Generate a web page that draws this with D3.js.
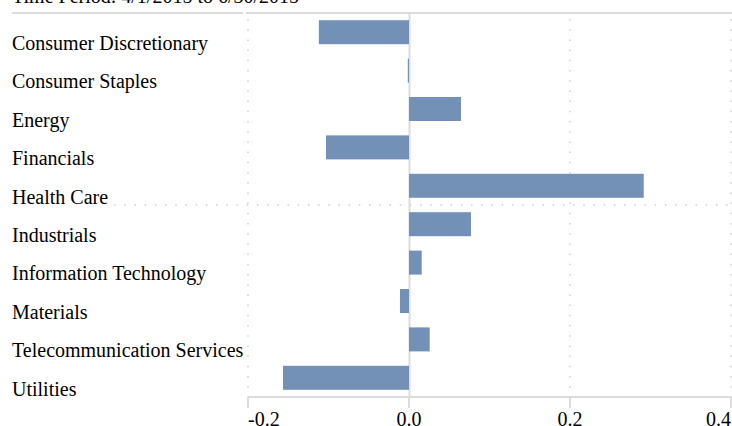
<!DOCTYPE html>
<html>
<head>
<meta charset="utf-8">
<script src="https://cdn.jsdelivr.net/npm/d3@7"></script>
<style>
  html, body { margin: 0; padding: 0; background: #fff; }
  svg { display: block; }
  text { font-family: "Liberation Serif", "Times New Roman", serif; fill: #000; }
</style>
</head>
<body>
<svg id="chart" width="732" height="426"></svg>
<script>
const title = "Time Period: 4/1/2015 to 6/30/2015";
const categories = [
  "Consumer Discretionary",
  "Consumer Staples",
  "Energy",
  "Financials",
  "Health Care",
  "Industrials",
  "Information Technology",
  "Materials",
  "Telecommunication Services",
  "Utilities"
];
const values = [-0.112, -0.0015, 0.0646, -0.1031, 0.2916, 0.077, 0.0158, -0.0112, 0.0257, -0.1565];
const xTicks = [-0.2, 0.0, 0.2, 0.4];
const xTickLabels = ["-0.2", "0.0", "0.2", "0.4"];

const svg = d3.select("#chart");
const W = 732, H = 426;
const plotLeft = 248, plotRight = 731, plotTop = 13, plotBottom = 397;
const labelX = 12;
const fontSize = 20;
const gridColor = "#dcdcdc";
const barColor = "#7390b7";

const x = d3.scaleLinear().domain([-0.2, 0.4]).range([plotLeft, plotRight]);
const y = d3.scaleBand().domain(categories).range([plotTop, plotBottom])
  .paddingInner(0.375).paddingOuter(0.1875);

// title (mostly clipped at top, as in the reference)
svg.append("text").attr("x", labelX).attr("y", 3)
  .attr("font-size", fontSize).text(title);

// top rule lines
svg.append("line").attr("x1", labelX).attr("x2", 243).attr("y1", plotTop).attr("y2", plotTop)
  .attr("stroke", gridColor).attr("stroke-width", 2);
svg.append("line").attr("x1", 246).attr("x2", W).attr("y1", plotTop).attr("y2", plotTop)
  .attr("stroke", gridColor).attr("stroke-width", 2);

// vertical dotted gridlines
svg.append("g").selectAll("line").data(xTicks.filter(d => d !== 0)).join("line")
  .attr("x1", d => Math.min(x(d), W - 1)).attr("x2", d => Math.min(x(d), W - 1))
  .attr("y1", plotTop + 6).attr("y2", plotBottom)
  .attr("stroke", "#cfcfcf").attr("stroke-width", 1.5)
  .attr("stroke-dasharray", "1.5,8.7");

// category labels
const labels = svg.append("g").selectAll("text").data(categories).join("text")
  .attr("x", labelX)
  .attr("y", d => y(d) - y.step() * y.paddingInner() / 2 + y.step() - 1.5)
  .attr("font-size", fontSize)
  .text(d => d);

// horizontal dotted midline (starting after "Health Care" label)
const midY = (plotTop + plotBottom) / 2;
let hcLen = 95;
labels.each(function(d) { if (d === "Health Care") hcLen = this.getComputedTextLength(); });
svg.append("line").attr("x1", labelX + hcLen + 6).attr("x2", W)
  .attr("y1", midY).attr("y2", midY)
  .attr("stroke", "#cfcfcf").attr("stroke-width", 1.5)
  .attr("stroke-dasharray", "1.5,8.7");

// zero line
svg.append("line").attr("x1", x(0) + 0.5).attr("x2", x(0) + 0.5)
  .attr("y1", plotTop).attr("y2", plotBottom)
  .attr("stroke", gridColor).attr("stroke-width", 2);

// bars
svg.append("g").selectAll("rect").data(categories).join("rect")
  .attr("x", (d, i) => Math.min(x(0), x(values[i])))
  .attr("width", (d, i) => Math.max(1, Math.abs(x(values[i]) - x(0))))
  .attr("y", d => y(d))
  .attr("height", y.bandwidth())
  .attr("fill", barColor);

// bottom axis
svg.append("line").attr("x1", plotLeft).attr("x2", plotRight).attr("y1", plotBottom).attr("y2", plotBottom)
  .attr("stroke", gridColor).attr("stroke-width", 2);
svg.append("g").selectAll("line").data(xTicks).join("line")
  .attr("x1", d => Math.min(x(d), W - 1)).attr("x2", d => Math.min(x(d), W - 1))
  .attr("y1", plotBottom).attr("y2", plotBottom + 11)
  .attr("stroke", gridColor).attr("stroke-width", 2);
svg.append("g").selectAll("text").data(xTicks).join("text")
  .attr("x", d => x(d))
  .attr("y", 426)
  .attr("font-size", fontSize)
  .attr("text-anchor", (d, i) => i === 0 ? "start" : (i === xTicks.length - 1 ? "end" : "middle"))
  .text((d, i) => xTickLabels[i]);
</script>
</body>
</html>
